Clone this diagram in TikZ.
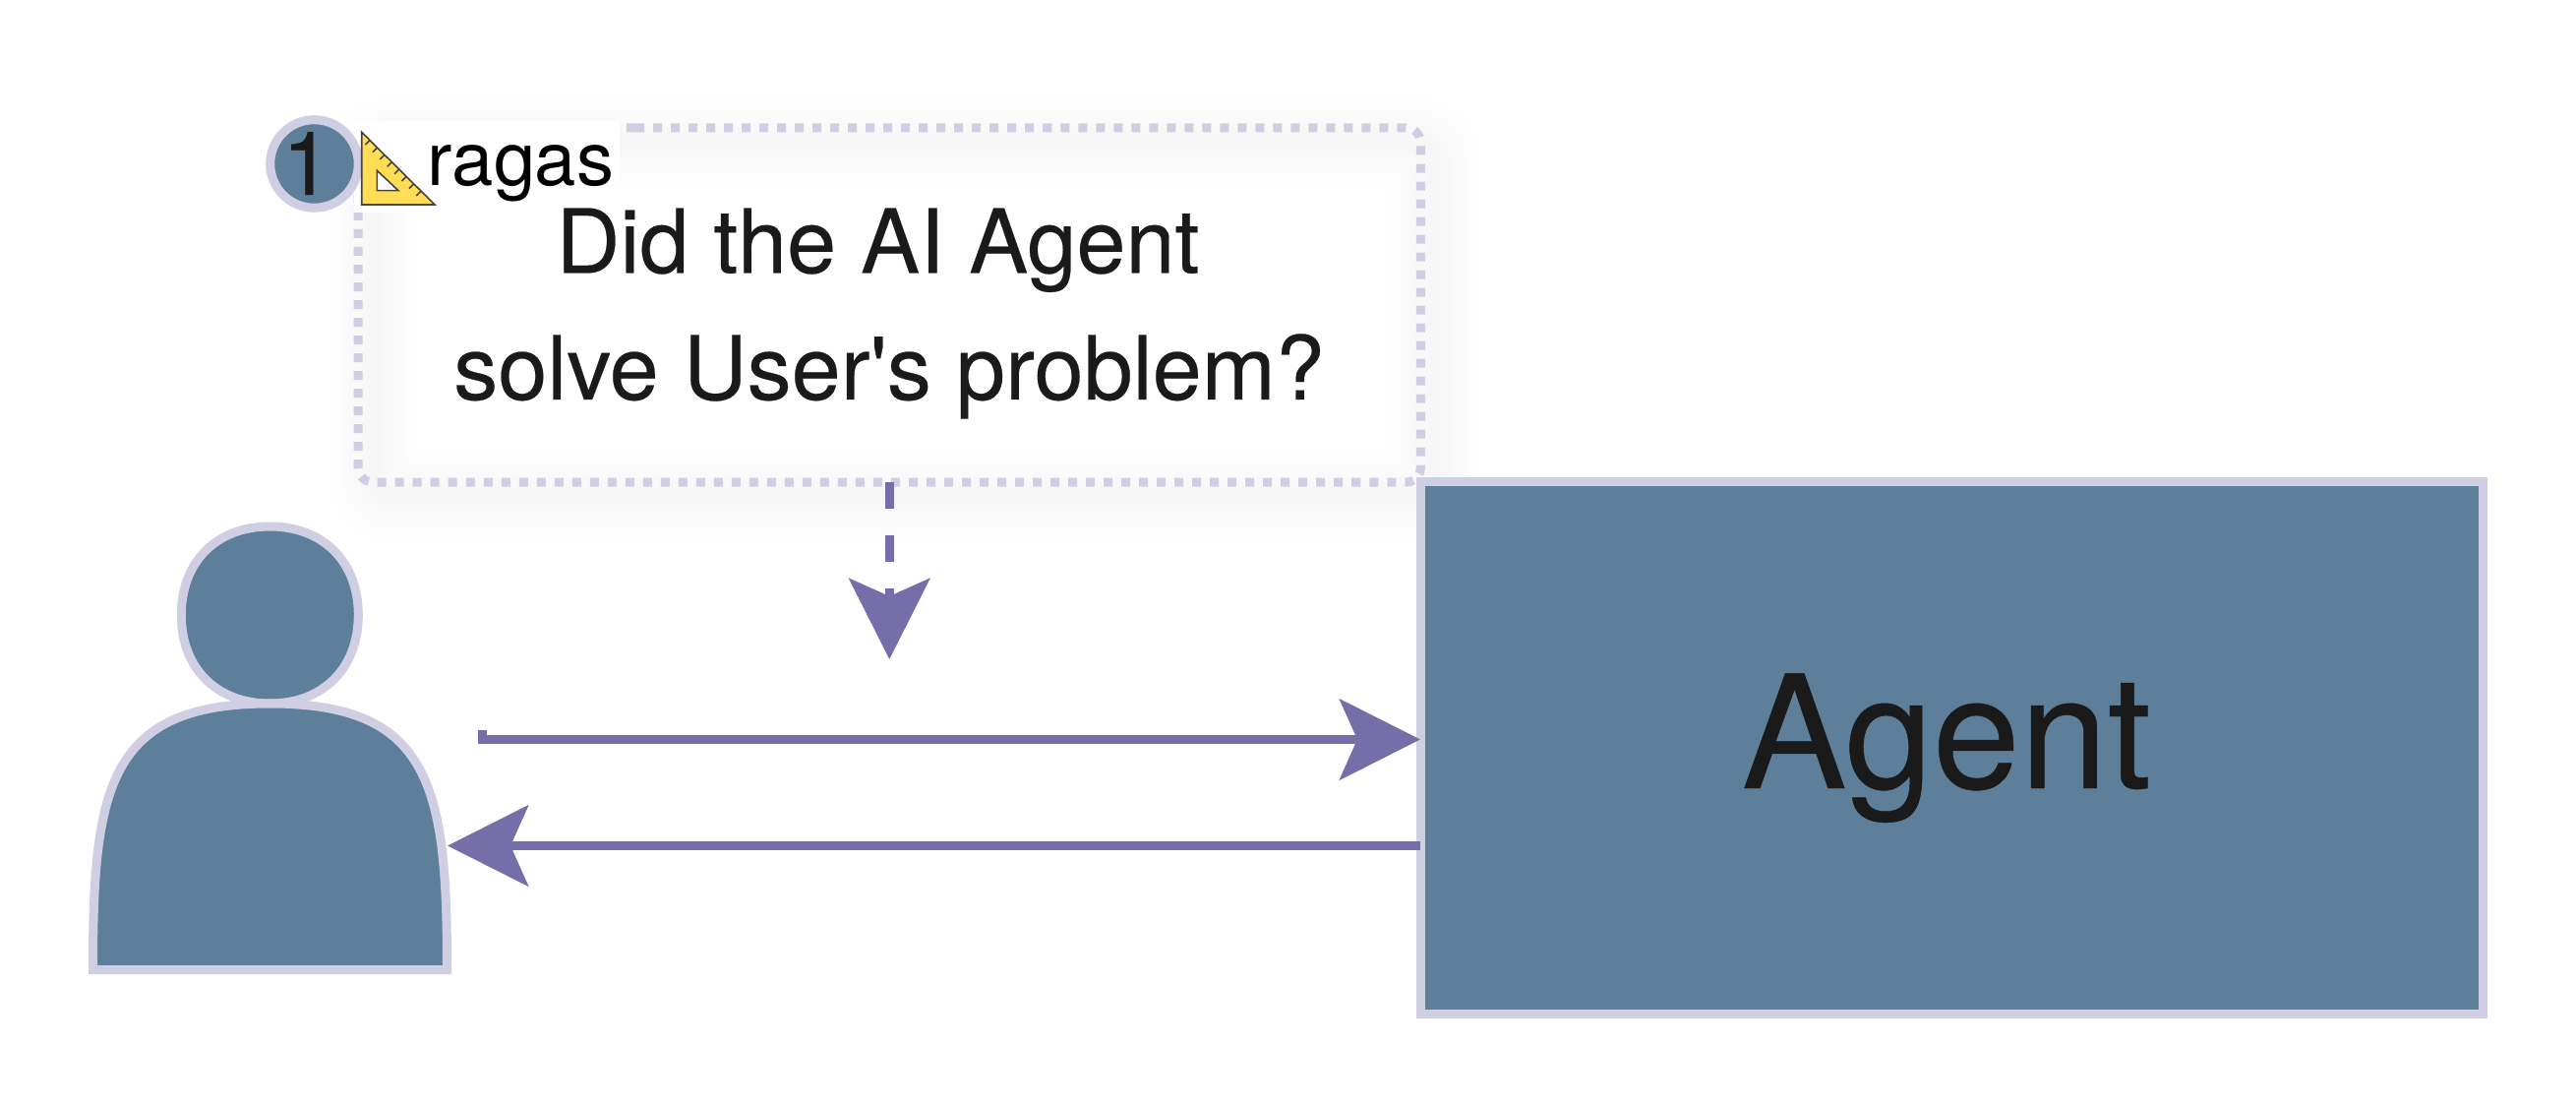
\documentclass[tikz,border=0pt]{standalone}
\usepackage{fontspec}
\setmainfont{TeX Gyre Heros}
\newfontfamily\heavyfont[FakeBold=0.25]{TeX Gyre Heros}
\usetikzlibrary{arrows.meta}
\definecolor{boxfill}{HTML}{5D7F9A}
\definecolor{boxline}{HTML}{D0CEE3}
\definecolor{arrowline}{HTML}{756EA8}
\definecolor{inktext}{HTML}{1A1A1A}
\definecolor{rulerfill}{HTML}{FFDD55}
\definecolor{rulerline}{HTML}{444444}
\tikzset{
  shapeline/.style={draw=boxline,fill=boxfill,line width=0.09cm},
  flowarrow/.style={draw=arrowline,line width=0.09cm,-{Stealth[length=0.82cm,width=0.82cm,inset=0.18cm,fill=arrowline]}},
  labeltext/.style={text=inktext,inner sep=0pt,anchor=base},
}
\begin{document}
\begin{tikzpicture}[x=0.01cm,y=-0.01cm]
            \useasboundingbox (0,0) rectangle (2619,1125);
            \fill[white] (0,0) rectangle (2619,1125);

            % soft shadow of the frame
            \foreach \w in {0.1,0.2,0.3,0.4,0.5,0.6,0.7,0.8,0.9}
                \draw[black,opacity=0.003,line width=\w cm,rounded corners=0.2cm] (380,145) rectangle (1459,505);

            \node (frame) at (904.25,310) [outer sep=0pt,minimum width=10.795cm,minimum height=3.6cm,inner sep=0pt] {};
            \coordinate (framestart) at (631,130);
            \draw[boxline,line width=0.09cm,rounded corners=0.15cm,dash pattern=on 0.09cm off 0.09cm]
                (framestart) -- (frame.north east) -- (frame.south east) -- (frame.south west) -- (frame.north west) -- cycle;
            \fill[white] (360,123) rectangle (630,216);

            \node (question) at (904,406) [labeltext,align=center,font=\heavyfont\fontsize{25.6}{36.6}\selectfont]
                {Did the AI Agent\hspace*{0.23cm}\\solve User\textquotesingle s problem?};

            % agent box
            \node (agent) at (1984.5,760.25) [shapeline,rectangle,minimum width=10.8cm,minimum height=5.405cm,inner sep=0pt] {};
            \node (agentname) at (1979,801) [labeltext,font=\heavyfont\fontsize{45.5}{50}\selectfont] {Agent};

            % user figure
            \draw[shapeline] (184.3,625) .. controls (184.3,571) and (220,535) .. (274.3,535)
                .. controls (328.6,535) and (364.3,571) .. (364.3,625)
                .. controls (364.3,679) and (328.6,715) .. (274.3,715)
                .. controls (220,715) and (184.3,679) .. (184.3,625) -- cycle;
            \draw[shapeline,miter limit=10] (94.5,985.5) .. controls (94.5,800) and (110,715) .. (274.5,715)
                .. controls (439,715) and (454.5,800) .. (454.5,985.5) -- cycle;

            % connectors
            \coordinate (reqstart) at (490.5,742);
            \coordinate (reqbend) at (490.5,751.5);
            \coordinate (reqend) at (1444,751.5);
            \coordinate (replystart) at (1444,859.5);
            \coordinate (replyend) at (455,859.5);
            \coordinate (evalend) at (904.25,670);
            \draw[flowarrow] (reqstart) -- (reqbend) -- (reqend);
            \draw[flowarrow] (replystart) -- (replyend);
            \draw[flowarrow,dash pattern=on 0.27cm off 0.27cm] (frame.south) -- (evalend);

            % badge with number
            \node (badge) at (319.5,166.5) [shapeline,circle,minimum size=0.895cm,inner sep=0pt] {};
            \node (badgenum) at (312,198) [labeltext,font=\heavyfont\fontsize{25.6}{30}\selectfont] {1};

            % ruler icon
            \draw[rulerline,fill=rulerfill,line width=0.016cm,line join=miter] (367.7,134.3) -- (367.7,208) -- (442,208) -- cycle;
            \draw[rulerline,fill=white,line width=0.016cm] (383.3,173.3) -- (383.3,193.7) -- (405,193.7) -- cycle;
            \foreach \i in {0,...,7}
                \draw[rulerline,line width=0.016cm] ({376+7.4*\i},{142.6+7.4*\i}) -- ++(-4.5,4.5);

            \node (toolname) at (529.5,189) [labeltext,text=black,font=\fontsize{21.6}{24}\selectfont] {ragas};
\end{tikzpicture}
\end{document}
